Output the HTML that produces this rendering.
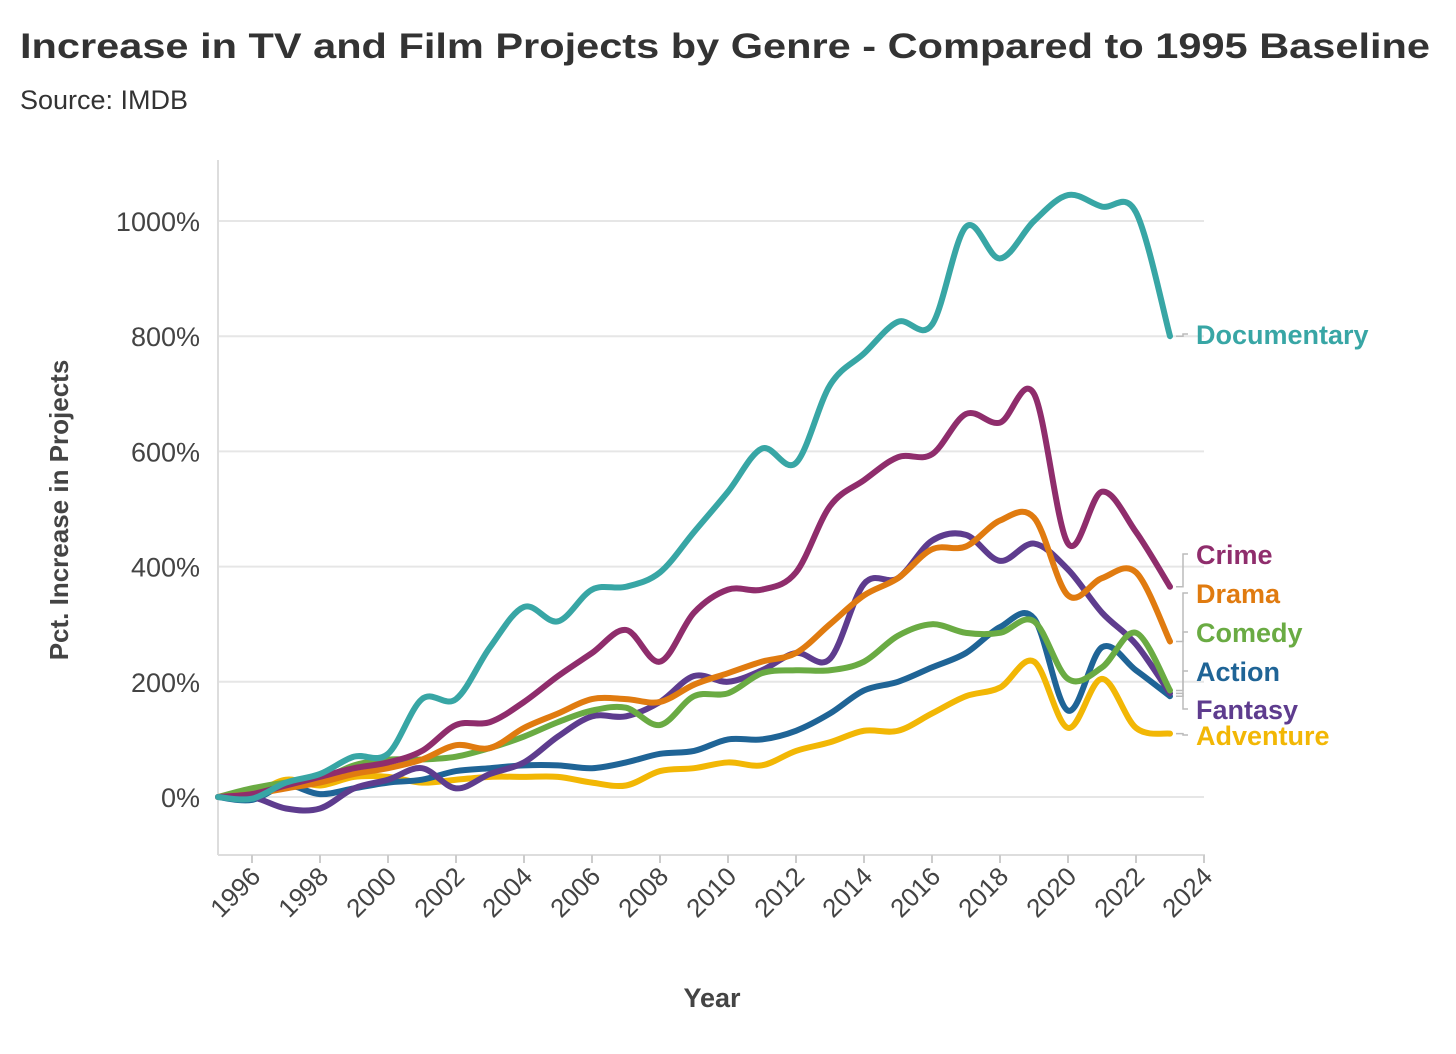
<!DOCTYPE html>
<html><head><meta charset="utf-8"><style>
body{margin:0;background:#fff;}
svg{display:block;font-family:"Liberation Sans",sans-serif;}
</style></head><body>
<svg id="chart" width="1456" height="1054" viewBox="0 0 1456 1054">
<text x="20" y="58" font-size="35" font-weight="bold" fill="#333" textLength="1410" lengthAdjust="spacingAndGlyphs">Increase in TV and Film Projects by Genre - Compared to 1995 Baseline</text>
<text x="20" y="109" font-size="27" fill="#333">Source: IMDB</text>
<g id="grid"></g>
<g id="axes"></g>
<g id="lines"></g>
<g id="labels"></g>
<text x="0" y="0" transform="translate(68,510) rotate(-90)" text-anchor="middle" font-size="26" font-weight="bold" fill="#444">Pct. Increase in Projects</text>
<text x="712" y="1007" text-anchor="middle" font-size="27" font-weight="bold" fill="#444">Year</text>
</svg>
<script>
const years = [1995,1996,1997,1998,1999,2000,2001,2002,2003,2004,2005,2006,2007,2008,2009,2010,2011,2012,2013,2014,2015,2016,2017,2018,2019,2020,2021,2022,2023];
const documentary = [0,-3,25,40,70,75,170,170,260,330,305,360,365,390,460,530,605,580,715,770,825,820,990,935,1000,1045,1025,1015,800];
const crime = [0,5,20,35,50,60,80,125,130,165,210,250,290,235,320,360,360,390,505,550,590,595,665,650,700,440,530,460,365];
const drama = [0,5,15,25,40,50,65,90,85,120,145,170,170,165,195,215,235,250,300,350,380,430,435,480,485,350,380,390,270];
const comedy = [0,15,25,30,55,65,65,70,85,105,130,150,155,125,175,180,215,220,220,235,280,300,285,285,305,205,225,285,185];
const action = [0,-5,20,5,15,25,30,45,50,55,55,50,60,75,80,100,100,115,145,185,200,225,250,295,310,150,260,220,175];
const fantasy = [0,0,-20,-20,15,30,50,15,40,60,105,140,140,165,210,200,220,250,240,370,380,445,455,410,440,395,320,265,180];
const adventure = [0,5,30,20,35,35,25,30,35,35,35,25,20,45,50,60,55,80,95,115,115,145,175,190,235,120,205,120,110];
const yTicks = [0,200,400,600,800,1000];
const xTicks = [1996,1998,2000,2002,2004,2006,2008,2010,2012,2014,2016,2018,2020,2022,2024];
const seriesNames = ["Documentary","Crime","Drama","Comedy","Action","Fantasy","Adventure"];

const NS="http://www.w3.org/2000/svg";
const X=y=>218+(y-1995)*34;
const Y=v=>797-v*0.576;
function mk(tag,attrs,parent){const e=document.createElementNS(NS,tag);for(const k in attrs)e.setAttribute(k,attrs[k]);parent.appendChild(e);return e;}
const grid=document.getElementById('grid'),axes=document.getElementById('axes'),lines=document.getElementById('lines'),labels=document.getElementById('labels');
yTicks.forEach(t=>{
  const l=mk('line',{x1:218,x2:1204,y1:Y(t),y2:Y(t),stroke:'#e6e6e6','stroke-width':2},grid);
  
  
  const tx=mk('text',{x:200,y:Y(t)+10,'text-anchor':'end','font-size':27,fill:'#444'},axes);
  tx.textContent=t+'%';
  
  
});
mk('line',{x1:218,x2:218,y1:160,y2:855,stroke:'#ddd','stroke-width':2},axes);
mk('line',{x1:218,x2:1205,y1:855,y2:855,stroke:'#ddd','stroke-width':2},axes);
xTicks.forEach(t=>{
  mk('line',{x1:X(t),x2:X(t),y1:855,y2:863,stroke:'#ccc','stroke-width':2},axes);
  const tx=mk('text',{x:0,y:0,transform:`translate(${X(t)+10},${878}) rotate(-45)`,'text-anchor':'end','font-size':26,fill:'#444'},axes);
  tx.textContent=t;
  
  
});
function path(vals){
  const p=vals.map((v,i)=>[X(years[i]),Y(v)]);
  let d=`M${p[0][0]},${p[0][1]}`;
  for(let i=0;i<p.length-1;i++){
    const p0=p[Math.max(i-1,0)],p1=p[i],p2=p[i+1],p3=p[Math.min(i+2,p.length-1)];
    const c1=[p1[0]+(p2[0]-p0[0])/6,p1[1]+(p2[1]-p0[1])/6];
    const c2=[p2[0]-(p3[0]-p1[0])/6,p2[1]-(p3[1]-p1[1])/6];
    d+=`C${c1[0]},${c1[1]} ${c2[0]},${c2[1]} ${p2[0]},${p2[1]}`;
  }
  return d;
}
const data=[documentary,crime,drama,comedy,action,fantasy,adventure];
const colors=["#38a6a5","#8f2d6c","#e07b10","#6aab43","#1f6496","#5e3c8e","#f2b705"];
const labelY=[334,554,593,632,671,709,735];
const order=[6,4,5,3,2,1,0];
order.forEach(i=>{
  const p=mk('path',{d:path(data[i]),fill:'none',stroke:colors[i],'stroke-width':6,'stroke-linejoin':'round','stroke-linecap':'round'},lines);
  
  
});
seriesNames.forEach((n,i)=>{
  const last=Y(data[i][data[i].length-1]);
  mk('path',{d:`M1176,${last} L1183,${last} L1183,${labelY[i]} L1188,${labelY[i]}`,fill:'none',stroke:'#bbb','stroke-width':1.5},labels);
  const t=mk('text',{x:1196,y:labelY[i]+10,'font-size':27,'font-weight':'bold',fill:colors[i]},labels);
  t.textContent=n;
  
  
});
</script>
</body></html>
